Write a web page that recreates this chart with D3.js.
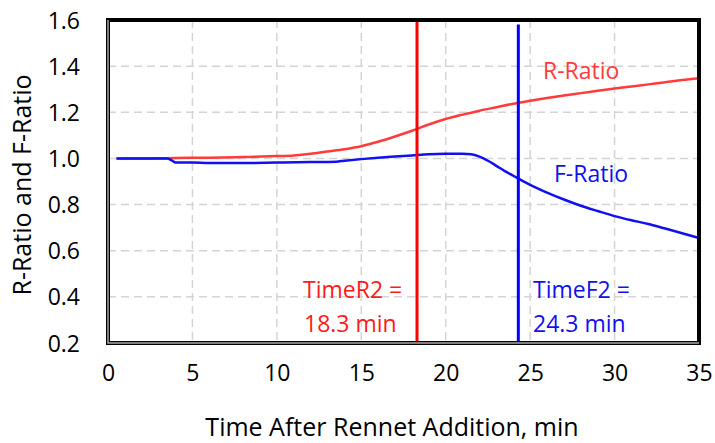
<!DOCTYPE html>
<html>
<head>
<meta charset="utf-8">
<script src="https://cdn.jsdelivr.net/npm/d3@7"></script>
<style>
  body { margin: 0; background: #fff; }
  text { font-family: "Open Sans", sans-serif; }
  .tickLabel { font-size: 23px; }
  .axisTitle { font-size: 25px; }
  .note { font-size: 23px; }
  .grid line { stroke: #d4d4d4; stroke-width: 1.5; stroke-dasharray: 8,5; }
</style>
</head>
<body>
<div id="chart"></div>
<script>
// time (min) and ratio values
const rTime  = [0.5, 2, 4, 6, 8, 10, 11, 12, 13, 14, 15, 16, 17, 18, 19, 20, 21, 22, 23, 24, 25, 26, 27, 28, 29, 30, 31, 32, 33, 34, 35];
const rRatio = [1.0, 1.0, 1.002, 1.003, 1.006, 1.01, 1.013, 1.02, 1.03, 1.04, 1.053, 1.072, 1.095, 1.12, 1.147, 1.171, 1.19, 1.207, 1.222, 1.237, 1.25, 1.262, 1.273, 1.283, 1.293, 1.303, 1.312, 1.321, 1.33, 1.34, 1.348];

const fTime  = [0.5, 3.5, 3.8, 4.0, 5, 6, 8, 10, 12, 13.5, 14, 15, 16, 17, 18, 19, 20, 21, 21.5, 22, 22.5, 23, 23.5, 24, 24.5, 25, 26, 27, 28, 29, 30, 31, 32, 33, 34, 35];
const fRatio = [1.0, 1.0, 0.99, 0.982, 0.982, 0.98, 0.98, 0.982, 0.984, 0.986, 0.99, 0.997, 1.003, 1.008, 1.013, 1.018, 1.02, 1.02, 1.018, 1.008, 0.99, 0.968, 0.945, 0.925, 0.905, 0.885, 0.852, 0.822, 0.795, 0.772, 0.75, 0.732, 0.716, 0.696, 0.676, 0.655];

const xTicks = [0, 5, 10, 15, 20, 25, 30, 35];
const yTicks = [0.2, 0.4, 0.6, 0.8, 1.0, 1.2, 1.4, 1.6];

const timeR2 = 18.3;
const timeF2 = 24.3;

let width = 715, height = 443;
let plotLeft = 108, plotRight = 699, plotTop = 20, plotBottom = 343;

let svg = d3.select('#chart').append('svg')
  .attr('width', width)
  .attr('height', height);

let xScale = d3.scaleLinear().domain([0, 35]).range([plotLeft, plotRight]);
let yScale = d3.scaleLinear().domain([0.2, 1.6]).range([plotBottom, plotTop]);

// gridlines
let grid = svg.append('g').attr('class', 'grid');
grid.selectAll('.hg')
  .data(yTicks.filter(d => d > 0.2 && d < 1.6))
  .enter().append('line')
  .attr('x1', plotLeft).attr('x2', plotRight)
  .attr('y1', d => yScale(d)).attr('y2', d => yScale(d));
grid.selectAll('.vg')
  .data(xTicks.filter(d => d > 0 && d < 35))
  .enter().append('line')
  .attr('y1', plotTop).attr('y2', plotBottom)
  .attr('x1', d => xScale(d)).attr('x2', d => xScale(d));

// data lines
let line = d3.line()
  .x(d => xScale(d[0]))
  .y(d => yScale(d[1]))
  .curve(d3.curveMonotoneX);

svg.append('path')
  .datum(rTime.map((t, i) => [t, rRatio[i]]))
  .attr('d', line)
  .attr('fill', 'none')
  .attr('stroke', '#ff3b3b')
  .attr('stroke-width', 2.5);

svg.append('path')
  .datum(fTime.map((t, i) => [t, fRatio[i]]))
  .attr('d', line)
  .attr('fill', 'none')
  .attr('stroke', '#1010f0')
  .attr('stroke-width', 2.5);

// vertical markers
svg.append('line')
  .attr('x1', xScale(timeR2)).attr('x2', xScale(timeR2))
  .attr('y1', yScale(1.6)).attr('y2', yScale(0.2))
  .attr('stroke', '#ff0000').attr('stroke-width', 3);
svg.append('line')
  .attr('x1', xScale(timeF2)).attr('x2', xScale(timeF2))
  .attr('y1', yScale(1.58)).attr('y2', yScale(0.2))
  .attr('stroke', '#0000ff').attr('stroke-width', 3);

// frame
svg.append('rect')
  .attr('x', plotLeft).attr('y', plotTop)
  .attr('width', plotRight - plotLeft).attr('height', plotBottom - plotTop)
  .attr('fill', 'none').attr('stroke', '#000').attr('stroke-width', 4);
svg.append('path')
  .attr('d', `M${plotLeft},${plotTop} L${plotLeft},${plotBottom} L${plotRight},${plotBottom}`)
  .attr('fill', 'none').attr('stroke', '#a8a8a8').attr('stroke-width', 1.5);

// axes
let xAxis = svg.append('g')
  .attr('transform', `translate(0, ${plotBottom + 22})`)
  .call(d3.axisBottom(xScale).tickValues(xTicks).tickSize(0).tickFormat(d3.format('d')));
let yAxis = svg.append('g')
  .attr('transform', `translate(${plotLeft - 28}, 0)`)
  .call(d3.axisLeft(yScale).tickValues(yTicks).tickSize(0).tickFormat(d3.format('.1f')));
[xAxis, yAxis].forEach(a => {
  a.select('.domain').remove();
  a.selectAll('text').attr('class', 'tickLabel').attr('fill', '#000');
});
yAxis.selectAll('text').attr('dy', '0.35em').attr('x', 0);
xAxis.selectAll('text').attr('dy', '0.71em').attr('y', 0);

svg.append('text')
  .attr('class', 'axisTitle')
  .attr('text-anchor', 'middle')
  .attr('x', 392)
  .attr('y', 436)
  .text('Time After Rennet Addition, min');
svg.append('text')
  .attr('class', 'axisTitle')
  .attr('text-anchor', 'middle')
  .attr('transform', 'rotate(-90)')
  .attr('x', -185)
  .attr('y', 31)
  .text('R-Ratio and F-Ratio');

// annotations
function note(x, y, txt, color) {
  svg.append('text')
    .attr('class', 'note')
    .attr('x', x).attr('y', y)
    .style('fill', color)
    .text(txt);
}
note(543, 79, 'R-Ratio', '#ff3b3b');
note(554, 182, 'F-Ratio', '#1010f0');
note(303, 298, 'TimeR2 =', '#ff1a1a');
note(304, 332, '18.3 min', '#ff1a1a');
note(533, 298, 'TimeF2 =', '#1010f0');
note(533, 332, '24.3 min', '#1010f0');
</script>
</body>
</html>
